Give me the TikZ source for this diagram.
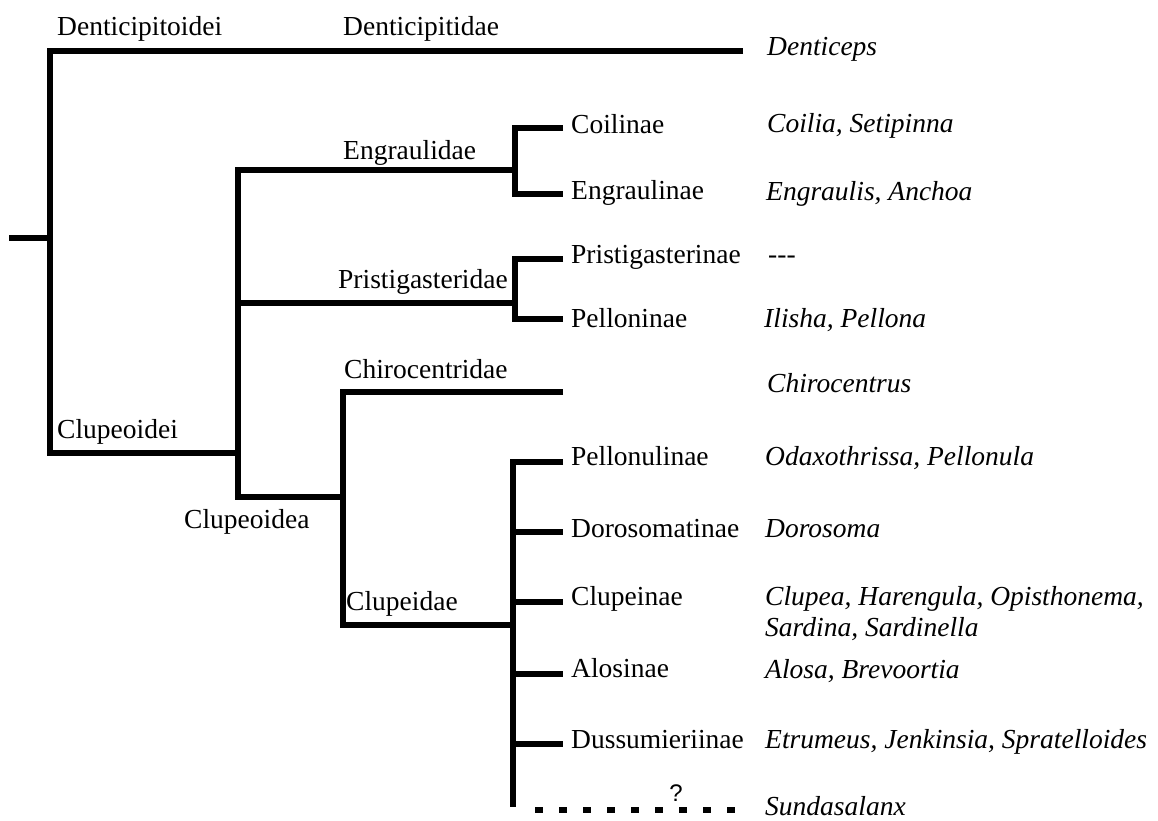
\documentclass[tikz,border=0pt]{standalone}
\usepackage{fontspec}
\setmainfont{Liberation Serif}
\newfontfamily\qfont{Liberation Sans}
\begin{document}
\begin{tikzpicture}[x=1pt,y=-1pt,
  br/.style={line width=5.5pt,line join=miter,line cap=butt},
  dashbr/.style={line width=5.5pt,line cap=butt,dash pattern=on 8pt off 16pt,dash phase=8pt},
  lbl/.style={anchor=base west,inner sep=0pt,font=\fontsize{27.5}{31}\selectfont},
  gen/.style={lbl,font=\fontsize{27.5}{31}\selectfont\itshape}]
\useasboundingbox[fill=white] (0,0) rectangle (1158,820);

% branch points
\coordinate (r0)   at (9,238);
\coordinate (r1)   at (50,238);
\coordinate (dtop) at (50,51);
\coordinate (dend) at (743,51);
\coordinate (clu)  at (50,453);
\coordinate (cluB) at (238,453);
\coordinate (cltop) at (238,170);
\coordinate (clbot) at (238,497);
\coordinate (priA) at (238,303);
\coordinate (engS) at (515,170);
\coordinate (priS) at (515,303);
\coordinate (claS) at (343,497);
\coordinate (chiS) at (343,392);
\coordinate (chiE) at (563,392);
\coordinate (cldS) at (343,625);
\coordinate (cldV) at (513,625);
\coordinate (cldT) at (513,462);
\coordinate (cldB) at (513,810);
\coordinate (sunE) at (735,810);

% rank labels along branches
\node[lbl] (denticipitoidei) at (57,35) {Denticipitoidei};
\node[lbl] (denticipitidae)  at (343,35) {Denticipitidae};
\node[lbl] (engraulidae)     at (343,159) {Engraulidae};
\node[lbl] (pristigasteridae) at (338,288) {Pristigasteridae};
\node[lbl] (chirocentridae)  at (344,378) {Chirocentridae};
\node[lbl] (clupeoidei)      at (57,438) {Clupeoidei};
\node[lbl] (clupeoidea)      at (184,528) {Clupeoidea};
\node[lbl] (clupeidae)       at (346,610) {Clupeidae};

% subfamilies
\node[lbl] (coilinae)   at (571,133) {Coilinae};
\node[lbl] (engraulinae) at (571,199) {Engraulinae};
\node[lbl] (pristigasterinae) at (571,263) {Pristigasterinae};
\node[lbl] (pelloninae) at (571,327) {Pelloninae};
\node[lbl] (pellonulinae) at (571,465) {Pellonulinae};
\node[lbl] (dorosomatinae) at (571,537) {Dorosomatinae};
\node[lbl] (clupeinae)  at (571,605) {Clupeinae};
\node[lbl] (alosinae)   at (571,677) {Alosinae};
\node[lbl] (dussumieriinae) at (571,748) {Dussumieriinae};

% genera
\node[gen] (denticeps) at (767,55) {Denticeps};
\node[gen] (coilia)    at (767,132) {Coilia, Setipinna};
\node[gen] (engraulis) at (766,200) {Engraulis, Anchoa};
\node[lbl] (none)      at (768,263) {\mbox{-}\mbox{-}\mbox{-}};
\node[gen] (ilisha)    at (764,327) {Ilisha, Pellona};
\node[gen] (chirocentrus) at (767,392) {Chirocentrus};
\node[gen] (odaxo)     at (765,465) {Odaxothrissa, Pellonula};
\node[gen] (dorosoma)  at (765,537) {Dorosoma};
\node[gen] (clupea)    at (765,605) {Clupea, Harengula, Opisthonema,};
\node[gen] (sardina)   at (765,636) {Sardina, Sardinella};
\node[gen] (alosa)     at (765,678) {Alosa, Brevoortia};
\node[gen] (etrumeus)  at (765,748) {Etrumeus, Jenkinsia, Spratelloides};
\node[gen] (sundasalanx) at (765,815) {Sundasalanx};
\node[anchor=base,inner sep=0pt,font=\qfont\fontsize{24}{28}\selectfont] (query) at (676,801) {?};

% root and Denticipitoidei / Clupeoidei split
\draw[br] (r0) -- (r1);
\draw[br] (dend) -- (dtop) -- (clu) -- (cluB);

% Clupeoidea
\draw[br] (engS) -- (cltop) -- (clbot) -- (claS);
\draw[br] (priA) -- (priS);

% Engraulidae
\draw[br] (engS |- coilinae.base) ++(48,-5) -- ++(-48,0) |- ([xshift=48]engS |- 0,194);
% Pristigasteridae
\draw[br] (563,259) -| (priS) |- (563,319);

% Chirocentridae + Clupeidae
\draw[br] (chiE) -- (chiS) -- (cldS) -- (cldV);
\draw[br] (563,462) -- (cldT) -- ([yshift=2.75]cldB);
\foreach \yy in {532,602,674,744}
  \draw[br] (cldT |- 0,\yy) -- (563,\yy);
\draw[dashbr] ([xshift=6]cldB) -- (sunE);
\end{tikzpicture}
\end{document}
